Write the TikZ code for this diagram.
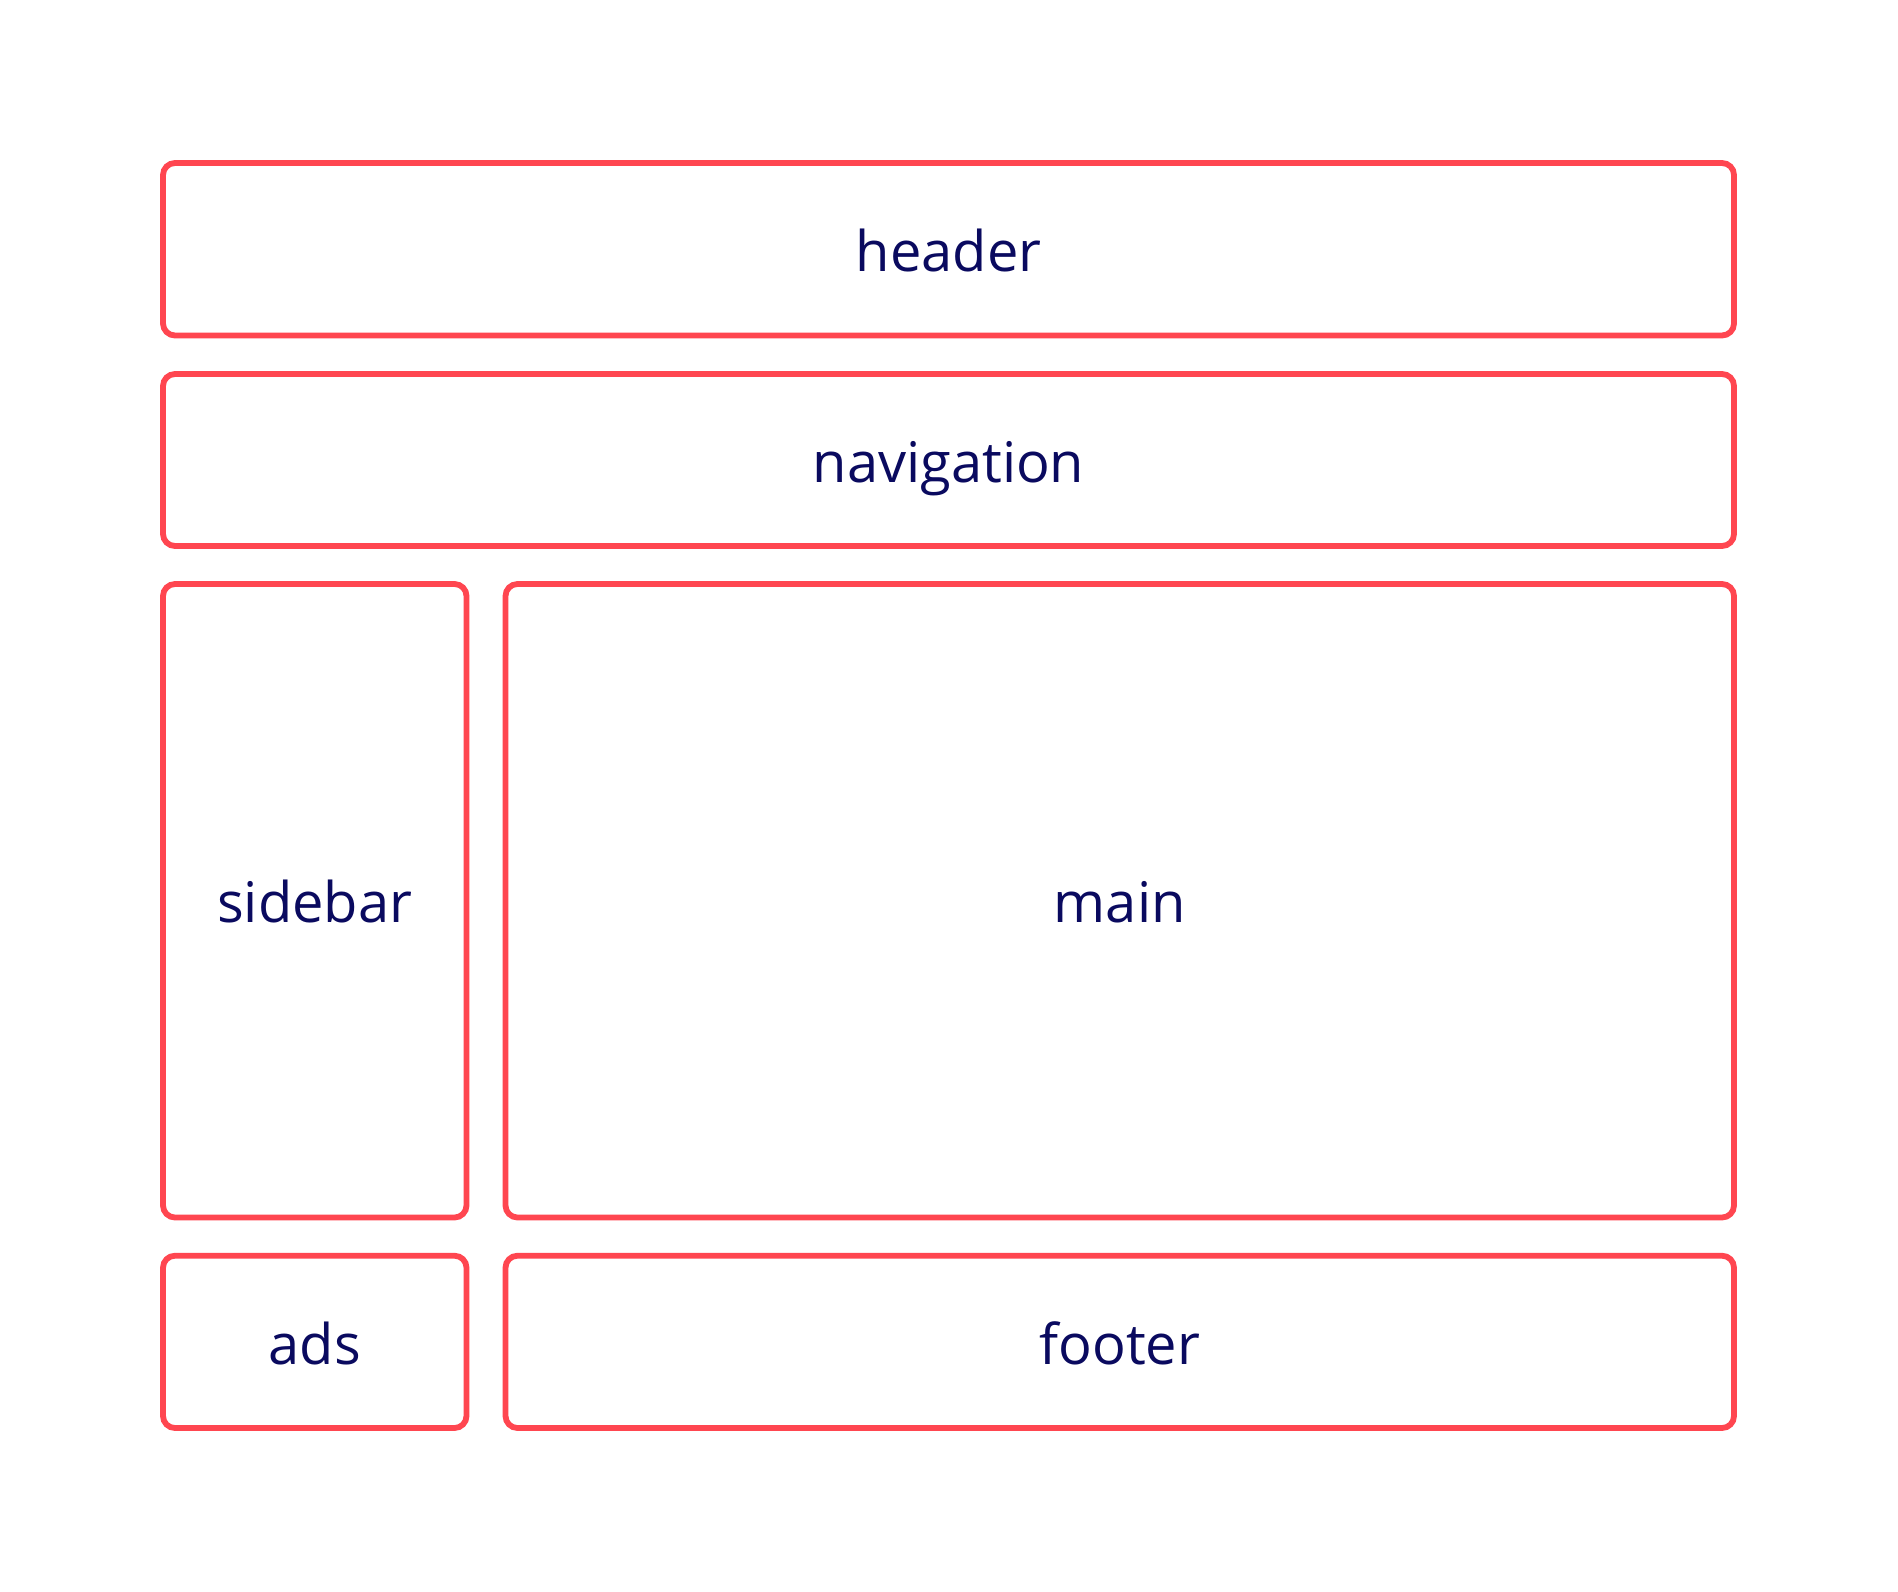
\documentclass[tikz,border=0pt]{standalone}
\usepackage{fontspec}
\setmainfont{Open Sans}
\definecolor{boxred}{HTML}{FF4650}
\definecolor{navy}{HTML}{0A0A5F}
\begin{document}
\begin{tikzpicture}[x=1pt,y=-1pt,
  area/.style={draw=boxred,line width=5.8pt,rounded corners=12pt},
  lbl/.style={text=navy,font=\fontsize{56}{60}\selectfont,anchor=base,inner sep=0pt}]
\useasboundingbox[fill=white] (0,0) rectangle (1898,1592);
\draw[area] (163,163) rectangle (1734,335.5);
\draw[area] (163,374) rectangle (1734,546);
\draw[area] (163,584) rectangle (466.5,1217.5);
\draw[area] (505.5,584) rectangle (1734,1217.5);
\draw[area] (163,1255.7) rectangle (466.5,1428);
\draw[area] (505.5,1255.7) rectangle (1734,1428);
\node[lbl] (header) at (948.5,271.5) {header};
\node[lbl] (navigation) at (948.5,482) {navigation};
\node[lbl] (sidebar) at (314.75,922.5) {sidebar};
\node[lbl] (main) at (1119.75,922.5) {main};
\node[lbl] (ads) at (314.75,1364) {ads};
\node[lbl] (footer) at (1119.75,1364) {footer};
\end{tikzpicture}
\end{document}
